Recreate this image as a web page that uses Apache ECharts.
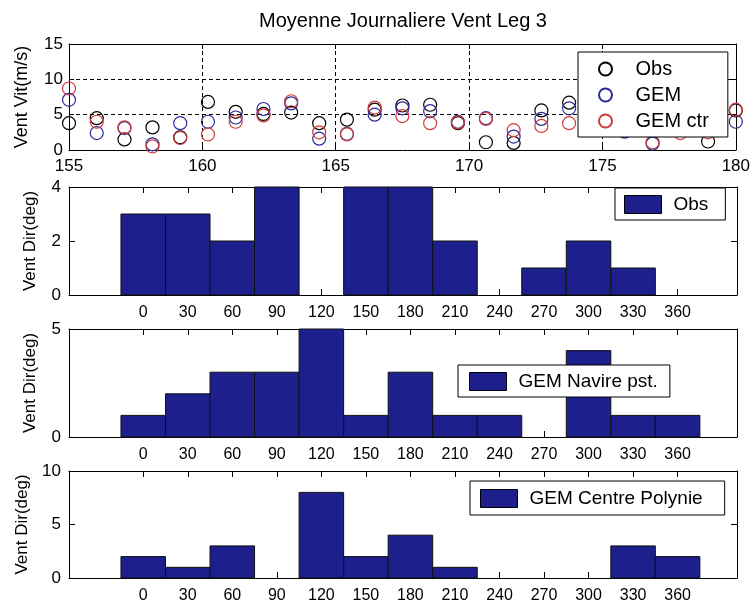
<!DOCTYPE html>
<html>
<head>
<meta charset="utf-8">
<script src="https://cdn.jsdelivr.net/npm/echarts@6/dist/echarts.min.js"></script>
<style>
html,body{margin:0;padding:0;background:#fff;}
#chart{width:753px;height:607px;}
</style>
</head>
<body>
<div id="chart"></div>
<script>
// ---------- data ----------
const titleText = 'Moyenne Journaliere Vent Leg 3';
const days = [155, 156.04, 157.08, 158.13, 159.17, 160.21, 161.25, 162.29, 163.33, 164.38,
              165.42, 166.46, 167.5, 168.54, 169.58, 170.63, 171.67, 172.71, 173.75, 174.79,
              175.83, 176.88, 177.92, 178.96, 180];
const obsSpeed    = [3.8, 4.5, 1.5, 3.2, 1.8, 6.8, 5.4, 5.1, 5.3, 3.8, 4.3, 5.7, 6.3, 6.4, 3.8, 1.1, 1.0, 5.6, 6.7, 5.0, 3.0, 3.5, 4.5, 1.2, 5.6];
const gemSpeed    = [7.1, 2.4, 3.1, 0.8, 3.8, 4.0, 4.6, 5.8, 6.6, 1.6, 2.3, 5.0, 5.9, 5.5, 4.0, 4.5, 1.9, 4.4, 5.9, 4.2, 2.6, 0.9, 3.0, 3.0, 4.0];
const gemCtrSpeed = [8.7, 4.0, 3.2, 0.5, 1.7, 2.2, 4.0, 4.9, 6.9, 2.5, 2.2, 6.0, 4.8, 3.8, 3.9, 4.4, 2.8, 3.4, 3.8, 3.5, 2.8, 1.1, 2.4, 2.5, 5.7];

const dirBins       = [0, 30, 60, 90, 120, 150, 180, 210, 240, 270, 300, 330, 360];
const obsDirCount   = [3, 3, 2, 4, 0, 4, 4, 2, 0, 1, 2, 1, 0];
const navDirCount   = [1, 2, 3, 3, 5, 1, 3, 1, 1, 0, 4, 1, 1];
const ctrDirCount   = [2, 1, 3, 0, 8, 2, 4, 1, 0, 0, 0, 3, 2];

const speedTicksX = [155, 160, 165, 170, 175, 180];
const speedTicksY = [0, 5, 10, 15];

const seriesNames = ['Obs', 'GEM', 'GEM ctr'];
const histNames = ['Obs', 'GEM Navire pst.', 'GEM Centre Polynie'];
const histMax = [4, 5, 10];
const histInterval = [2, 5, 5];

// ---------- styling ----------
const FONT = '"Liberation Sans", Arial, Helvetica, sans-serif';
const BAR = '#1c1f8c';
const BINW = dirBins[1] - dirBins[0];
const PLOT_L = 69, PLOT_R = 753 - 737;
const gridTops = [44, 187, 329, 471];
const gridHeights = [106, 108, 108, 107];

const chart = echarts.init(document.getElementById('chart'), null, {renderer: 'canvas'});

const axisLine = {show: true, onZero: false, lineStyle: {color: '#000', width: 1}};
const grids = gridTops.map((t, i) => ({left: PLOT_L, right: PLOT_R, top: t, height: gridHeights[i], containLabel: false}));

const xAxes = [];
const yAxes = [];
// top panel axes
xAxes.push({
  gridIndex: 0, type: 'value', position: 'bottom', min: speedTicksX[0], max: speedTicksX[speedTicksX.length - 1], interval: 5,
  axisLine, axisTick: {inside: true, length: 5, lineStyle: {color: '#000'}},
  axisLabel: {color: '#000', fontSize: 17, fontFamily: FONT, margin: 8},
  splitLine: {show: true, lineStyle: {color: '#000', type: [4, 3], width: 1}}
});
xAxes.push({
  gridIndex: 0, type: 'value', position: 'top', min: 155, max: 180, interval: 5,
  axisLine, axisTick: {inside: true, length: 5, lineStyle: {color: '#000'}}, axisLabel: {show: false}, splitLine: {show: false}
});
yAxes.push({
  gridIndex: 0, type: 'value', position: 'left', min: speedTicksY[0], max: speedTicksY[speedTicksY.length - 1], interval: 5,
  name: 'Vent Vit(m/s)', nameLocation: 'middle', nameRotate: 90, nameGap: 38,
  nameTextStyle: {color: '#000', fontSize: 18, fontFamily: FONT},
  axisLine, axisTick: {inside: true, length: 5, lineStyle: {color: '#000'}},
  axisLabel: {color: '#000', fontSize: 17, fontFamily: FONT, margin: 6},
  splitLine: {show: true, lineStyle: {color: '#000', type: [4, 3], width: 1}}
});
yAxes.push({
  gridIndex: 0, type: 'value', position: 'right', min: 0, max: 15, interval: 5,
  axisLine, axisTick: {inside: true, length: 5, lineStyle: {color: '#000'}}, axisLabel: {show: false}, splitLine: {show: false}
});
// histogram axes
for (let g = 1; g <= 3; g++) {
  xAxes.push({
    gridIndex: g, type: 'value', position: 'bottom', min: -50, max: 400,
    axisLine, axisTick: {inside: true, length: 6, customValues: dirBins, lineStyle: {color: '#000'}},
    axisLabel: {color: '#000', fontSize: 16, fontFamily: FONT, margin: 10, customValues: dirBins},
    splitLine: {show: false}
  });
  xAxes.push({
    gridIndex: g, type: 'value', position: 'top', min: -50, max: 400,
    axisLine, axisTick: {inside: true, length: 6, customValues: dirBins, lineStyle: {color: '#000'}},
    axisLabel: {show: false}, splitLine: {show: false}
  });
  yAxes.push({
    gridIndex: g, type: 'value', position: 'left', min: 0, max: histMax[g - 1], interval: histInterval[g - 1],
    name: 'Vent Dir(deg)', nameLocation: 'middle', nameRotate: 90, nameGap: 30,
    nameTextStyle: {color: '#000', fontSize: 17, fontFamily: FONT},
    axisLine, axisTick: {inside: true, length: 6, lineStyle: {color: '#000'}},
    axisLabel: {color: '#000', fontSize: 17, fontFamily: FONT, margin: 8},
    splitLine: {show: false}
  });
  yAxes.push({
    gridIndex: g, type: 'value', position: 'right', min: 0, max: histMax[g - 1], interval: histInterval[g - 1],
    axisLine, axisTick: {inside: true, length: 6, lineStyle: {color: '#000'}},
    axisLabel: {show: false}, splitLine: {show: false}
  });
}

const speedColors = ['#000000', '#2a2a9a', '#d03a3a'];
const speedData = [obsSpeed, gemSpeed, gemCtrSpeed];
const series = [];
speedData.forEach((vals, k) => {
  series.push({
    name: seriesNames[k], type: 'scatter', xAxisIndex: 0, yAxisIndex: 0, clip: false,
    symbol: 'circle', symbolSize: 13, z: 5,
    itemStyle: {color: 'rgba(0,0,0,0)', borderColor: speedColors[k], borderWidth: 1.2, opacity: 1},
    emphasis: {disabled: true},
    data: days.map((d, i) => [d, vals[i]])
  });
});

function renderHist(params, api) {
  const x = api.value(0), c = api.value(1);
  if (!c) return null;
  const p0 = api.coord([x - BINW / 2, 0]);
  const p1 = api.coord([x + BINW / 2, c]);
  return {
    type: 'rect',
    shape: {x: p0[0], y: p1[1], width: p1[0] - p0[0], height: p0[1] - p1[1]},
    style: {fill: BAR, stroke: '#111', lineWidth: 1}
  };
}
const histCounts = [obsDirCount, navDirCount, ctrDirCount];
histCounts.forEach((cnts, k) => {
  series.push({
    name: histNames[k], type: 'custom', xAxisIndex: 2 + 2 * k, yAxisIndex: 2 + 2 * k,
    renderItem: renderHist, z: 3, clip: false,
    itemStyle: {color: BAR, borderColor: '#000', borderWidth: 1},
    data: dirBins.map((b, i) => [b, cnts[i]])
  });
});

const legendCommon = {
  borderColor: '#000', borderWidth: 1, backgroundColor: '#fff', borderRadius: 0,
  selectedMode: false, z: 10
};
const barLegendItem = name => ({name, icon: 'rect', itemStyle: {color: BAR, borderColor: '#000', borderWidth: 1}});
const histText = {color: '#000', fontSize: 19, fontFamily: FONT, padding: [0, 0, 0, 7]};
const legends = [
  Object.assign({}, legendCommon, {
    data: seriesNames.map(n => ({name: n, icon: 'circle'})),
    orient: 'vertical', left: 578, top: 52, itemWidth: 50, itemHeight: 13, itemGap: 6,
    padding: [7, 19, 6, 20],
    textStyle: {color: '#000', fontSize: 20, fontFamily: FONT, lineHeight: 20}
  }),
  Object.assign({}, legendCommon, {
    data: [barLegendItem(histNames[0])], left: 615, top: 188, itemWidth: 37, itemHeight: 18,
    padding: [7, 17, 6, 9], textStyle: histText
  }),
  Object.assign({}, legendCommon, {
    data: [barLegendItem(histNames[1])], left: 458, top: 365, itemWidth: 37, itemHeight: 18,
    padding: [7, 12, 6, 11], textStyle: histText
  }),
  Object.assign({}, legendCommon, {
    data: [barLegendItem(histNames[2])], left: 470, top: 481, itemWidth: 37, itemHeight: 18,
    padding: [8, 22, 7, 10], textStyle: histText
  })
];

chart.setOption({
  animation: false,
  backgroundColor: '#fff',
  graphic: [{
    type: 'text', x: 403, y: 21, z: 10,
    style: {text: titleText, fill: '#000', font: '20px ' + FONT, textAlign: 'center', textVerticalAlign: 'middle'}
  }],
  legend: legends,
  grid: grids,
  xAxis: xAxes,
  yAxis: yAxes,
  series
});
</script>
</body>
</html>
